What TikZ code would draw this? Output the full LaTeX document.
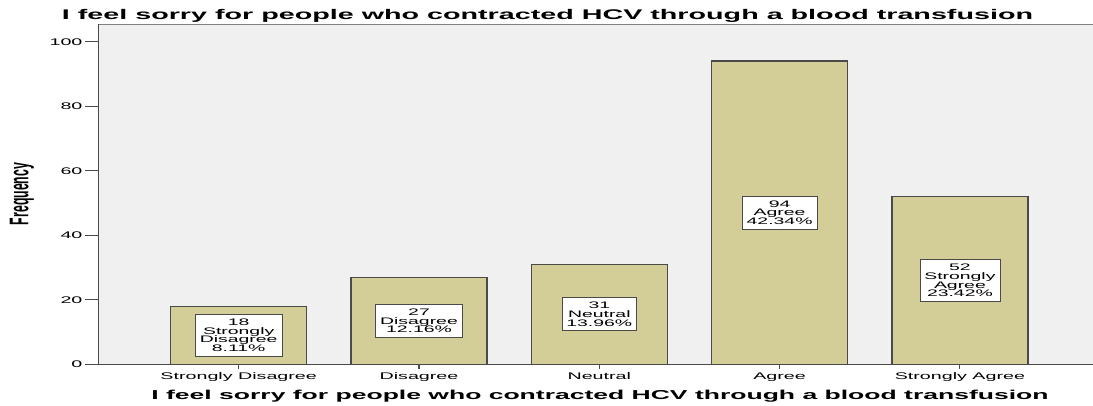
\documentclass[tikz,border=0pt]{standalone}
\usepackage{fontspec}
\newfontfamily\spss[FakeStretch=2.05]{Liberation Sans}
\newfontfamily\spssup{Liberation Sans}
\definecolor{plotbg}{HTML}{F0F0F0}
\definecolor{barfill}{HTML}{D3CE98}
\definecolor{edgegray}{HTML}{4A4A4A}
\lineskiplimit=-10pt
\begin{document}
\begin{tikzpicture}[x=0.75pt,y=0.75pt,
    bar/.style={fill=barfill,draw=edgegray,line width=0.9pt},
    countbox/.style={fill=white,draw=edgegray,line width=0.6pt,align=center,
      inner xsep=3.3pt,inner ysep=3.2pt,
      font={\spss\fontsize{7.1}{6.6}\selectfont}},
    ticklab/.style={inner sep=0pt,font={\spss\fontsize{7.2}{8}\selectfont}},
    axisline/.style={draw=edgegray,line width=0.8pt}]
  \useasboundingbox (0,0) rectangle (1093,405);
  % plot area
  \fill[plotbg] (98.3,40.7) rectangle (1093,381);
  \draw[gray,line width=0.7pt] (98.3,381) -- (1093,381);
  \begin{scope}[shift={(0,40.7)},y=2.4195pt]
    \foreach \tk in {0,20,...,100}{
      \draw[axisline] (85,\tk) -- (98.3,\tk);
      \node[ticklab,anchor=east] (ytick\tk) at (82.7,\tk) {\tk};
    }
    \foreach \p/\nm/\val/\cat/\lab in {0/sd/18/Strongly Disagree/{18\\Strongly\\Disagree\\8.11\%},
        1/d/27/Disagree/{27\\Disagree\\12.16\%},
        2/n/31/Neutral/{31\\Neutral\\13.96\%},
        3/a/94/Agree/{94\\Agree\\42.34\%},
        4/sa/52/Strongly Agree/{52\\Strongly\\Agree\\23.42\%}}{
      \draw[bar] ({170.7+180.3*\p},0) rectangle +(136,\val);
      \node[countbox] (box-\nm) at ({238.7+180.3*\p},{\val/2}) {\lab};
      \draw[axisline] ({238.7+180.3*\p},0) -- +(0,-1.4);
      \node[ticklab,anchor=base] (cat-\nm) at ({238.7+180.3*\p},-4.56) {\cat};
    }
    \draw[axisline] (98.3,105.49) -- (98.3,0) -- (1093,0);
  \end{scope}
  % titles
  \node[anchor=base,inner sep=0pt,font={\spss\bfseries\fontsize{10.5}{12}\selectfont}] (title) at (547.5,385.7)
    {I feel sorry for people who contracted HCV through a blood transfusion};
  \node[anchor=base,inner sep=0pt,font={\spss\bfseries\fontsize{9.7}{11}\selectfont}] (xtitle) at (600,5.7)
    {I feel sorry for people who contracted HCV through a blood transfusion};
  \node[inner sep=0pt,font={\spssup\bfseries\fontsize{9.2}{10}\selectfont},rotate=90,yscale=2.2] (ytitle) at (22,211) {Frequency};
\end{tikzpicture}
\end{document}
